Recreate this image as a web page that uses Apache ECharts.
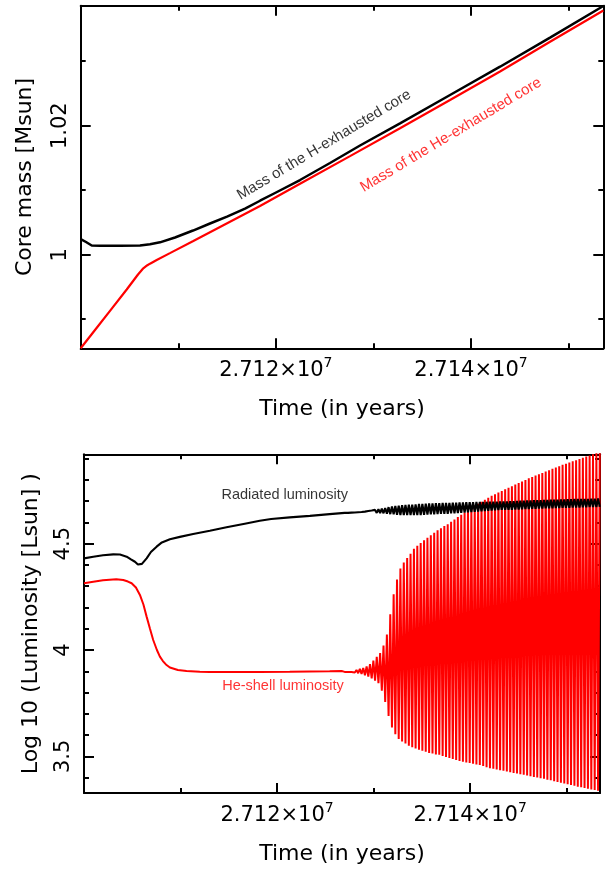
<!DOCTYPE html>
<html>
<head>
<meta charset="utf-8">
<script src="https://cdn.jsdelivr.net/npm/echarts@6/dist/echarts.min.js"></script>
<style>
html,body{margin:0;padding:0;background:#ffffff;}
#chart{width:608px;height:869px;}
</style>
</head>
<body>
<div id="chart"></div>
<script>
// ---------------- DATA ----------------
// Top panel: core masses [Msun] vs time [yr]
const hCoreTime = [27100000, 27100543, 27101128, 27101978, 27104028, 27106078, 27107103, 27108128, 27109666, 27111511, 27113253, 27114996, 27116841, 27118378, 27119916, 27122478, 27125553, 27128628, 27132728, 27137853, 27142978, 27148103, 27153567];
const hCoreMass = [1.00243, 1.00197, 1.00143, 1.00140, 1.00140, 1.00143, 1.00161, 1.00192, 1.00267, 1.00375, 1.00484, 1.00592, 1.00716, 1.00837, 1.00957, 1.01158, 1.01422, 1.01693, 1.02037, 1.02476, 1.02915, 1.03367, 1.03856];
const heCoreTime = [27100000, 27101466, 27103003, 27104715, 27105873, 27106417, 27106796, 27107103, 27107790, 27109147, 27111542, 27115303, 27118378, 27122478, 27127603, 27132728, 27137853, 27142978, 27148103, 27153567];
const heCoreMass = [0.98549, 0.98833, 0.99130, 0.99461, 0.99693, 0.99789, 0.99833, 0.99861, 0.99918, 1.00025, 1.00214, 1.00512, 1.00755, 1.01099, 1.01529, 1.01960, 1.02399, 1.02840, 1.03302, 1.03786];

// Bottom panel: log10 luminosities, quiet phase
const radTime = [27100000, 27100962, 27101966, 27103031, 27103724, 27104417, 27104862, 27105276, 27105586, 27105793, 27106000, 27106486, 27106931, 27107521, 27108069, 27108897, 27109931, 27111307, 27113035, 27114762, 27116655, 27118207, 27119387, 27121311, 27123400, 27125448];
const radLum = [4.431, 4.439, 4.446, 4.450, 4.449, 4.439, 4.426, 4.415, 4.402, 4.395, 4.405, 4.431, 4.461, 4.486, 4.506, 4.521, 4.532, 4.546, 4.561, 4.577, 4.594, 4.608, 4.616, 4.624, 4.631, 4.639];
const heLumTime = [27100000, 27100962, 27101966, 27103341, 27104066, 27104552, 27104934, 27105380, 27105793, 27106155, 27106486, 27106828, 27107169, 27107552, 27107862, 27108172, 27108483, 27108897, 27109724, 27110624, 27112000, 27113035, 27115373, 27118207, 27121311, 27123400, 27125448, 27126690];
const heLum = [4.314, 4.321, 4.328, 4.333, 4.329, 4.322, 4.314, 4.294, 4.259, 4.214, 4.157, 4.101, 4.047, 4.000, 3.969, 3.948, 3.932, 3.918, 3.906, 3.901, 3.898, 3.897, 3.896, 3.897, 3.898, 3.899, 3.900, 3.901];

// Bottom panel: thermal-pulse phase (alternating minimum / maximum samples)
const pulseTime = [
  27127000, 27127175, 27127350, 27127525, 27127700, 27127875, 27128050, 27128225,
  27128400, 27128575, 27128750, 27128925, 27129100, 27129275, 27129450, 27129625,
  27129800, 27129975, 27130150, 27130325, 27130500, 27130675, 27130850, 27131025,
  27131200, 27131375, 27131550, 27131725, 27131900, 27132075, 27132250, 27132425,
  27132600, 27132775, 27132950, 27133125, 27133300, 27133475, 27133650, 27133825,
  27134000, 27134175, 27134350, 27134525, 27134700, 27134875, 27135050, 27135225,
  27135400, 27135575, 27135750, 27135925, 27136100, 27136275, 27136450, 27136625,
  27136800, 27136975, 27137150, 27137325, 27137500, 27137675, 27137850, 27138025,
  27138200, 27138375, 27138550, 27138725, 27138900, 27139075, 27139250, 27139425,
  27139600, 27139775, 27139950, 27140125, 27140300, 27140475, 27140650, 27140825,
  27141000, 27141175, 27141350, 27141525, 27141700, 27141875, 27142050, 27142225,
  27142400, 27142575, 27142750, 27142925, 27143100, 27143275, 27143450, 27143625,
  27143800, 27143975, 27144150, 27144325, 27144500, 27144675, 27144850, 27145025,
  27145200, 27145375, 27145550, 27145725, 27145900, 27146075, 27146250, 27146425,
  27146600, 27146775, 27146950, 27147125, 27147300, 27147475, 27147650, 27147825,
  27148000, 27148175, 27148350, 27148525, 27148700, 27148875, 27149050, 27149225,
  27149400, 27149575, 27149750, 27149925, 27150100, 27150275, 27150450, 27150625,
  27150800, 27150975, 27151150, 27151325, 27151500, 27151675, 27151850, 27152025,
  27152200, 27152375, 27152550, 27152725, 27152900, 27153075, 27153250, 27153425
];
const heLumPulses = [
  3.897,3.904, 3.897,3.904, 3.896,3.905, 3.894,3.906, 3.891,3.911, 3.887,3.915, 3.881,3.923, 3.875,3.934,
  3.866,3.950, 3.856,3.968, 3.844,3.986, 3.809,4.021, 3.755,4.073, 3.690,4.168, 3.636,4.262, 3.604,4.332,
  3.582,4.383, 3.570,4.412, 3.560,4.433, 3.550,4.453, 3.543,4.476, 3.537,4.490, 3.531,4.503, 3.526,4.516,
  3.521,4.528, 3.516,4.540, 3.513,4.552, 3.509,4.563, 3.507,4.573, 3.502,4.583, 3.497,4.592, 3.492,4.603,
  3.487,4.614, 3.483,4.625, 3.478,4.636, 3.475,4.647, 3.471,4.658, 3.468,4.668, 3.465,4.678, 3.462,4.688,
  3.459,4.697, 3.454,4.707, 3.449,4.716, 3.444,4.725, 3.441,4.733, 3.438,4.741, 3.435,4.748, 3.432,4.756,
  3.428,4.763, 3.425,4.770, 3.422,4.778, 3.419,4.786, 3.416,4.793, 3.413,4.800, 3.410,4.808, 3.406,4.814,
  3.403,4.821, 3.400,4.827, 3.397,4.833, 3.394,4.840, 3.390,4.846, 3.387,4.852, 3.383,4.858, 3.379,4.864,
  3.376,4.871, 3.372,4.876, 3.369,4.882, 3.365,4.888, 3.361,4.893, 3.357,4.898, 3.354,4.904, 3.351,4.910,
  3.348,4.915, 3.344,4.921, 3.341,4.927, 3.338,4.932
];
const radLumPulses = [
  4.645,4.645, 4.645,4.646, 4.646,4.647, 4.647,4.647, 4.648,4.648, 4.649,4.648, 4.651,4.648, 4.654,4.648,
  4.656,4.647, 4.659,4.645, 4.662,4.644, 4.665,4.643, 4.668,4.641, 4.672,4.639, 4.675,4.638, 4.677,4.636,
  4.679,4.635, 4.681,4.635, 4.682,4.635, 4.683,4.635, 4.684,4.635, 4.685,4.635, 4.687,4.635, 4.687,4.636,
  4.688,4.637, 4.689,4.638, 4.690,4.638, 4.691,4.639, 4.691,4.640, 4.692,4.640, 4.692,4.641, 4.692,4.643,
  4.693,4.643, 4.693,4.644, 4.694,4.645, 4.694,4.646, 4.695,4.647, 4.695,4.649, 4.695,4.650, 4.696,4.651,
  4.696,4.652, 4.697,4.654, 4.697,4.655, 4.698,4.656, 4.698,4.657, 4.698,4.658, 4.699,4.659, 4.699,4.659,
  4.699,4.660, 4.700,4.660, 4.700,4.661, 4.701,4.661, 4.702,4.662, 4.702,4.663, 4.703,4.663, 4.703,4.664,
  4.704,4.664, 4.705,4.665, 4.705,4.665, 4.706,4.666, 4.706,4.667, 4.707,4.667, 4.707,4.668, 4.707,4.668,
  4.708,4.669, 4.708,4.669, 4.709,4.669, 4.709,4.670, 4.710,4.670, 4.710,4.670, 4.711,4.671, 4.711,4.671,
  4.711,4.672, 4.712,4.672, 4.712,4.672, 4.713,4.673
];

// Ticks and tick labels
const timeMajorTicks = [27120000, 27140000];
const timeMinorTicks = [27110000, 27130000, 27150000];
const massMajorTicks = [1.00, 1.02];
const massMinorTicks = [0.99, 1.01, 1.03];
const lumMajorTicks = [3.5, 4.0, 4.5];
const lumMinorTicks = [3.4, 3.6, 3.7, 3.8, 3.9, 4.1, 4.2, 4.3, 4.4, 4.6, 4.7, 4.8, 4.9];

// Axis ranges
const timeRangeTop = [27100000, 27153560];
const timeRangeBottom = [27100000, 27153450];
const massRange = [0.98549, 1.03861];
const lumRange = [3.3274, 4.9205];

// Curve annotations (anchored in data coordinates)
const massNotes = [
  {text: 'Mass of the H-exhausted core', time: 27124938, value: 1.01701},
  {text: 'Mass of the He-exhausted core', time: 27137935, value: 1.01856}
];
const lumNotes = [
  {text: 'Radiated luminosity', time: 27120793, value: 4.729},
  {text: 'He-shell luminosity', time: 27120617, value: 3.831}
];

// ---------------- CHART ----------------
const F = '"DejaVu Sans", sans-serif';
const AF = '"Liberation Sans", Arial, sans-serif';
const BLACK = '#000000';
const RED = '#ff0000';

function zip(t, v) { return t.map((x, i) => [x, v[i]]); }

function tickCfg(vals, len) {
  return {show: true, inside: true, length: len, customValues: vals, lineStyle: {color: BLACK, width: 2}};
}
const lineOn = {show: true, onZero: false, lineStyle: {color: BLACK, width: 2}};
const lineOff = {show: false};
const nameStyle = {fontFamily: F, fontSize: 22, color: BLACK};

function boxAxes(dim, gi, range, majors, minors, labelCfg, name, nameGap) {
  const p1 = dim === 'x' ? 'bottom' : 'left';
  const p2 = dim === 'x' ? 'top' : 'right';
  const base = {type: 'value', gridIndex: gi, min: range[0], max: range[1], splitLine: {show: false}, axisPointer: {show: false}};
  return [
    Object.assign({}, base, {position: p1, axisLine: lineOn, axisTick: tickCfg(majors, 10), axisLabel: labelCfg,
      name: name, nameLocation: 'middle', nameGap: nameGap, nameTextStyle: nameStyle, nameMoveOverlap: false}),
    Object.assign({}, base, {position: p1, axisLine: lineOff, axisTick: tickCfg(minors, 5), axisLabel: {show: false}}),
    Object.assign({}, base, {position: p2, axisLine: lineOn, axisTick: tickCfg(majors, 10), axisLabel: {show: false}}),
    Object.assign({}, base, {position: p2, axisLine: lineOff, axisTick: tickCfg(minors, 5), axisLabel: {show: false}})
  ];
}

const timeLabel = {
  show: true, customValues: timeMajorTicks, margin: 8,
  formatter: v => '{m|' + (v / 1e7).toFixed(3) + '×10}{e|7}',
  rich: {
    m: {fontFamily: F, fontSize: 21, color: BLACK, lineHeight: 25, verticalAlign: 'bottom'},
    e: {fontFamily: F, fontSize: 14, color: BLACK, lineHeight: 14, verticalAlign: 'top'}
  }
};
function valueLabel(vals) {
  return {show: true, customValues: vals, rotate: 90, margin: 10, fontFamily: F, fontSize: 21, color: BLACK,
    formatter: v => String(+v.toFixed(3))};
}

function noteSeries(notes, xi, yi, color, size, rotate) {
  return {
    type: 'scatter', xAxisIndex: xi, yAxisIndex: yi, symbolSize: 1, silent: true, z: 5,
    itemStyle: {color: 'rgba(0,0,0,0)'},
    label: {show: true, position: 'inside', formatter: p => p.name, fontFamily: AF, fontSize: size, color: color, rotate: rotate},
    data: notes.map(n => ({name: n.text, value: [n.time, n.value]}))
  };
}

const xAxes = boxAxes('x', 0, timeRangeTop, timeMajorTicks, timeMinorTicks, timeLabel, 'Time (in years)', 50)
  .concat(boxAxes('x', 1, timeRangeBottom, timeMajorTicks, timeMinorTicks, timeLabel, 'Time (in years)', 50));
const yAxes = boxAxes('y', 0, massRange, massMajorTicks, massMinorTicks, valueLabel(massMajorTicks), 'Core mass [Msun]', 44)
  .concat(boxAxes('y', 1, lumRange, lumMajorTicks, lumMinorTicks, valueLabel(lumMajorTicks), 'Log 10 (Luminosity [Lsun] )', 42));

// quiet phase followed by the pulse phase, one continuous curve each
const heCurve = zip(heLumTime, heLum).concat(zip(pulseTime, heLumPulses));
const radCurve = zip(radTime, radLum).concat(zip(pulseTime, radLumPulses));

function line(data, xi, yi, color, width, z) {
  return {type: 'line', xAxisIndex: xi, yAxisIndex: yi, data: data, showSymbol: false, symbol: 'none',
    smooth: false, lineStyle: {color: color, width: width}, z: z};
}

const option = {
  animation: false,
  backgroundColor: '#ffffff',
  textStyle: {fontFamily: F},
  grid: [
    {left: 80.7, top: 5.7, width: 522.6, height: 342.6, containLabel: false, outerBoundsMode: 'none'},
    {left: 84, top: 454.3, width: 516, height: 338.7, containLabel: false, outerBoundsMode: 'none'}
  ],
  xAxis: xAxes,
  yAxis: yAxes,
  series: [
    line(zip(heCoreTime, heCoreMass), 0, 0, RED, 2.2, 2),
    line(zip(hCoreTime, hCoreMass), 0, 0, BLACK, 2.5, 3),
    line(heCurve, 4, 4, RED, 2, 2),
    line(radCurve, 4, 4, BLACK, 2.1, 3),
    noteSeries([massNotes[0]], 0, 0, BLACK, 15, 31),
    noteSeries([massNotes[1]], 0, 0, RED, 15, 31),
    noteSeries([lumNotes[0]], 4, 4, BLACK, 14.5, 0),
    noteSeries([lumNotes[1]], 4, 4, RED, 14.5, 0)
  ]
};

const chart = echarts.init(document.getElementById('chart'), null, {renderer: 'canvas', devicePixelRatio: 1});
chart.setOption(option);
</script>
</body>
</html>
